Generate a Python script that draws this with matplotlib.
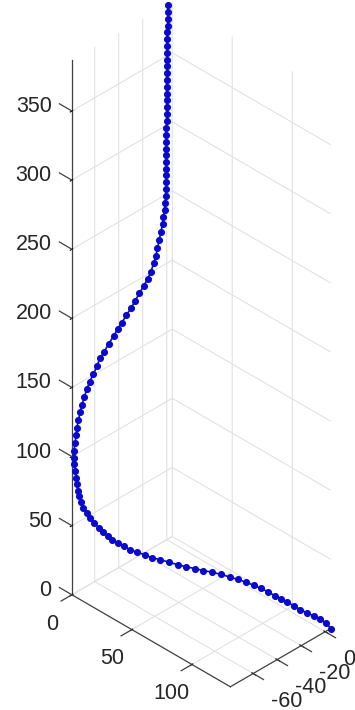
import matplotlib
matplotlib.use("Agg")
import matplotlib.pyplot as plt
from mpl_toolkits.mplot3d import proj3d

# points of the curve
x_vals = [132.0, 129.8, 126.7, 123.3, 119.9, 116.5, 113.4, 110.0, 106.8, 103.4,
          100.0, 96.4, 92.7, 88.9, 84.7, 80.4, 76.0, 71.7, 67.1, 62.9,
          58.3, 53.9, 49.6, 45.0, 40.8, 37.0, 33.2, 29.7, 26.3, 23.5,
          20.7, 18.4, 16.1, 13.6, 11.5, 9.3, 7.7, 5.9, 4.6, 3.7,
          3.1, 2.5, 2.2, 1.7, 1.3, 0.9, 0.6, 0.4, 0.2, 0.1,
          0, 0, 0, 0, 0, 0, 0, 0, 0, 0,
          0, 0, 0, 0, 0, 0, 0, 0, 0, 0,
          0, 0, 0, 0, 0, 0, 0, 0, 0, 0,
          0, 0, 0, 0, 0, 0, 0, 0, 0, 0,
          0, 0, 0, 0, 0, 0, 0, 0, 0, 0,
          0, 0, 0, 0, 0, 0, 0, 0, 0]
y_vals = [4.6, 3.2, 1.3, -0.9, -3.1, -5.2, -7.2, -9.4, -11.4, -13.5,
          -15.6, -17.9, -20.3, -22.7, -25.3, -28.1, -30.8, -33.6, -36.5, -39.2,
          -42.1, -44.9, -47.6, -50.5, -53.2, -55.5, -58.0, -60.2, -62.3, -64.1,
          -65.9, -67.4, -68.8, -70.4, -71.7, -73.1, -74.2, -75.3, -76.1, -76.6,
          -77.1, -77.4, -77.6, -77.9, -78.2, -78.4, -77.7, -76.9, -75.6, -74.9,
          -73.5, -72.1, -70.7, -68.8, -66.5, -64.3, -61.0, -58.2, -55.4, -52.1,
          -48.5, -44.3, -41.0, -37.3, -33.8, -29.8, -26.3, -22.7, -19.3, -15.8,
          -13.2, -10.8, -9.0, -7.7, -6.3, -4.8, -3.5, -2.7, -1.8, -1.3,
          -0.7, -0.4, -0.4, -0.4, -0.4, -0.4, -0.4, -0.4, -0.4, -0.4,
          -0.4, 0.0, 0.0, 0.0, 0.0, 0.0, 0.0, 0.0, 0.0, 0.4,
          0.4, 0.4, 0.4, 0.4, 0.4, 1.0, 1.0, 1.0, 1.0]
z_vals = [0.0, 3.6, 5.7, 7.6, 9.1, 10.8, 12.9, 15.0, 16.8, 18.5,
          20.6, 22.4, 24.0, 25.5, 26.7, 27.8, 28.7, 29.6, 29.9, 30.6,
          31.0, 31.8, 32.7, 33.8, 34.3, 35.9, 36.9, 38.2, 40.0, 41.9,
          43.8, 45.8, 48.2, 51.0, 54.2, 57.4, 60.8, 64.0, 68.2, 72.1,
          75.6, 80.4, 85.2, 89.8, 94.6, 99.4, 103.6, 108.9, 113.7, 119.0,
          123.8, 128.5, 133.0, 137.6, 142.6, 146.7, 150.6, 155.2, 159.2, 162.3,
          166.1, 169.5, 173.1, 175.8, 179.4, 182.5, 186.2, 189.8, 193.4, 196.7,
          200.7, 205.4, 210.1, 214.8, 219.9, 225.2, 230.4, 235.0, 239.6, 244.4,
          249.2, 254.2, 259.3, 264.0, 268.7, 273.8, 278.5, 283.2, 288.3, 293.0,
          298.1, 303.0, 307.7, 312.8, 317.9, 322.6, 327.7, 332.4, 337.5, 342.3,
          347.1, 352.1, 356.9, 361.9, 367.0, 371.5, 376.5, 381.6, 386.7]

x_ticks = [0, 50, 100]
y_ticks = [-60, -40, -20, 0]
z_ticks = [0, 50, 100, 150, 200, 250, 300, 350]
x_lim = (0, 132)
y_lim = (-79, 4.6)
z_lim = (0, 387)

plt.rcParams["font.family"] = ["Liberation Sans", "DejaVu Sans"]
plt.rcParams["axes.unicode_minus"] = False
plt.rcParams["grid.color"] = "#e2e2e2"
plt.rcParams["grid.linewidth"] = 0.8

W, H = 355, 710
fig = plt.figure(figsize=(W / 100, H / 100), dpi=100)
side = 687.8
ax = fig.add_axes([-151.9 / W, 12.6 / H, side / W, side / H],
                  projection="3d", proj_type="ortho")

line, = ax.plot(x_vals, y_vals, z_vals, "-o", color="#0a0acc", lw=1.2, ms=4.1)
line.set_clip_on(False)

ax.set_xlim(*x_lim)
ax.set_ylim(*y_lim)
ax.set_zlim(*z_lim)
ax.set_xticks(x_ticks)
ax.set_yticks(y_ticks)
ax.set_zticks(z_ticks)
ax.set_box_aspect((x_lim[1] - x_lim[0], y_lim[1] - y_lim[0], z_lim[1] - z_lim[0]))
ax.view_init(elev=35.5, azim=-45)
ax.zaxis.set_ticks_position("lower")
ax.zaxis.set_label_position("lower")

for axis in (ax.xaxis, ax.yaxis, ax.zaxis):
    axis.set_pane_color((1, 1, 1, 0))
    axis.pane.set_edgecolor((1, 1, 1, 0))
    axis.line.set_color("#404040")
    axis.line.set_linewidth(0.9)
    axis.set_tick_params(left=False, bottom=False, labelleft=False, labelbottom=False)

# tick marks and tick labels, MATLAB style
tick_kw = dict(color="#404040", lw=0.9, clip_on=False)
for t in x_ticks:
    ax.plot([t, t], [y_lim[0], y_lim[0] - 9], [z_lim[0], z_lim[0]], **tick_kw)
for t in y_ticks:
    ax.plot([x_lim[1], x_lim[1] + 8.6], [t, t], [z_lim[0], z_lim[0]], **tick_kw)
for t in z_ticks:
    ax.plot([x_lim[0], x_lim[0] - 10.4], [y_lim[0], y_lim[0]], [t, t], **tick_kw)

M = ax.get_proj()


def put_label(x, y, z, s, **kw):
    px, py, _ = proj3d.proj_transform(x, y, z, M)
    ax.text2D(px, py, s, fontsize=15.5, color="#262626", **kw)


for t in x_ticks:
    put_label(t, y_lim[0] - 16.7, z_lim[0] - 11, str(t), ha="center", va="center_baseline")
for t in y_ticks:
    put_label(x_lim[1] + 15, t, z_lim[0] - 10.5, str(t), ha="left", va="center_baseline")
for t in z_ticks:
    put_label(x_lim[0] - 13.4, y_lim[0] - 3.4, t, str(t), ha="right", va="center_baseline")

fig.savefig("out.png", dpi=100)
